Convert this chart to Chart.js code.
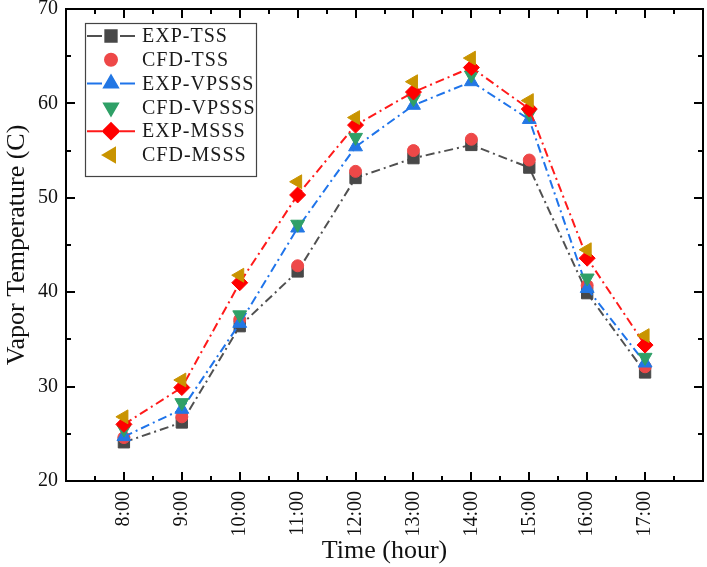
<!DOCTYPE html>
<html lang="en">
<head>
<meta charset="UTF-8">
<title>Vapor Temperature</title>
<script src="https://cdn.jsdelivr.net/npm/chart.js"></script>
<style>
  html, body { margin: 0; padding: 0; background: #fff; }
  #wrap { width: 707px; height: 567px; }
</style>
</head>
<body>
<div id="wrap"><canvas id="myChart"></canvas></div>
<script>
// data
const hours = ['8:00', '9:00', '10:00', '11:00', '12:00', '13:00', '14:00', '15:00', '16:00', '17:00'];
const expTss   = [24.1, 26.2, 36.4, 42.2, 52.1, 54.2, 55.6, 53.2, 39.9, 31.5];
const cfdTss   = [24.6, 26.8, 37.1, 42.8, 52.8, 55.0, 56.2, 54.0, 40.7, 32.1];
const expVpsss = [24.7, 27.6, 36.7, 46.8, 55.4, 59.8, 62.3, 58.3, 40.4, 32.5];
const cfdVpsss = [25.5, 28.3, 37.6, 47.2, 56.4, 60.5, 63.0, 58.9, 41.5, 33.1];
const expMsss  = [26.0, 29.9, 41.0, 50.3, 57.7, 61.2, 63.8, 59.4, 43.6, 34.4];
const cfdMsss  = [26.8, 30.7, 41.8, 51.7, 58.5, 62.3, 64.8, 60.3, 44.5, 35.4];
const yTicks = [20, 30, 40, 50, 60, 70];

const serif = '"Liberation Serif", "Times New Roman", serif';
const dashDot = [9, 4, 2, 4];

function pts(arr) {
  return arr.map((v, i) => ({ x: i, y: v }));
}

function series(label, arr, color, style, rot, lineColor, radius) {
  return {
    label: label,
    data: pts(arr),
    showLine: !!lineColor,
    borderColor: lineColor || color,
    borderWidth: 2,
    borderDash: dashDot,
    backgroundColor: color,
    pointStyle: style,
    rotation: rot,
    pointRadius: radius,
    pointBackgroundColor: color,
    pointBorderColor: color,
    pointBorderWidth: 1,
    tension: 0
  };
}

const datasets = [
  series('EXP-TSS', expTss, '#484848', 'rect', 0, '#505050', 8),
  series('CFD-TSS', cfdTss, '#ee4848', 'circle', 0, null, 6),
  series('EXP-VPSSS', expVpsss, '#2377e4', 'triangle', 0, '#1f74ea', 8),
  series('CFD-VPSSS', cfdVpsss, '#2fa067', 'triangle', 180, null, 8),
  series('EXP-MSSS', expMsss, '#ff0000', 'rectRot', 0, '#ff1a1a', 8),
  series('CFD-MSSS', cfdMsss, '#c99400', 'triangle', 270, null, 8)
];
// later series sit on top
datasets.forEach((d, i) => { d.order = datasets.length - i; });

// frame with inward ticks on all four sides
const framePlugin = {
  id: 'frame',
  afterDatasetsDraw(chart) {
    const ctx = chart.ctx;
    const a = chart.chartArea;
    const xs = chart.scales.x, ys = chart.scales.y;
    ctx.save();
    ctx.strokeStyle = '#000';
    ctx.lineWidth = 2;
    ctx.beginPath();
    for (let v = 25; v < 70; v += 5) {
      const y = Math.round(ys.getPixelForValue(v));
      const len = v % 10 === 0 ? 9 : 5;
      ctx.moveTo(a.left, y); ctx.lineTo(a.left + len, y);
      ctx.moveTo(a.right, y); ctx.lineTo(a.right - len, y);
    }
    for (let v = -0.5; v < 10; v += 0.5) {
      const x = Math.round(xs.getPixelForValue(v));
      const len = Number.isInteger(v) ? 9 : 5;
      ctx.moveTo(x, a.bottom); ctx.lineTo(x, a.bottom - len);
      ctx.moveTo(x, a.top); ctx.lineTo(x, a.top + len);
    }
    ctx.stroke();
    ctx.strokeRect(a.left, a.top, a.right - a.left, a.bottom - a.top);
    ctx.restore();
  }
};

// legend box in the upper left of the plot
const legendPlugin = {
  id: 'boxLegend',
  afterDraw(chart) {
    const ctx = chart.ctx;
    const a = chart.chartArea;
    const bx = a.left + 19, by = a.top + 14;
    ctx.save();
    ctx.fillStyle = '#fff';
    ctx.fillRect(bx, by, 171, 153);
    ctx.strokeStyle = '#444';
    ctx.lineWidth = 1.2;
    ctx.strokeRect(bx + 0.5, by + 0.5, 171, 153);
    chart.data.datasets.forEach((d, i) => {
      const cy = a.top + 27 + i * 23.8;
      const mx = bx + 26;
      if (d.showLine) {
        ctx.strokeStyle = d.borderColor;
        ctx.lineWidth = 2;
        ctx.beginPath();
        ctx.moveTo(bx + 2, cy); ctx.lineTo(mx - 9, cy);
        ctx.moveTo(mx + 9, cy); ctx.lineTo(bx + 50, cy);
        ctx.stroke();
      }
      ctx.fillStyle = d.pointBackgroundColor;
      ctx.strokeStyle = d.pointBorderColor;
      Chart.helpers.drawPoint(ctx, {
        pointStyle: d.pointStyle,
        rotation: d.rotation,
        radius: d.pointRadius,
        borderWidth: 1
      }, mx, cy);
      ctx.fillStyle = '#1a1a1a';
      ctx.font = '20px ' + serif;
      ctx.letterSpacing = '1px';
      ctx.textAlign = 'left';
      ctx.textBaseline = 'middle';
      ctx.fillText(d.label, bx + 57, cy + 1);
    });
    ctx.restore();
  }
};

const ctx = document.getElementById('myChart').getContext('2d');
const myChart = new Chart(ctx, {
  type: 'scatter',
  data: { datasets: datasets },
  options: {
    responsive: true,
    maintainAspectRatio: false,
    devicePixelRatio: 1,
    animation: false,
    layout: { autoPadding: false, padding: { top: 9, right: 4, left: 0, bottom: 0 } },
    plugins: {
      legend: { display: false },
      tooltip: { enabled: false }
    },
    scales: {
      x: {
        type: 'linear',
        min: -1,
        max: 10,
        afterFit(scale) {
          scale.height = 86;
          scale.paddingLeft = 0;
          scale.paddingRight = 0;
        },
        grid: { display: false, drawTicks: false },
        border: { display: false },
        ticks: {
          stepSize: 1,
          autoSkip: false,
          minRotation: 90,
          maxRotation: 90,
          padding: 10,
          color: '#111',
          font: { family: serif, size: 20 },
          callback: v => (Number.isInteger(v) && v >= 0 && v < hours.length) ? hours[v] : ''
        },
        title: {
          display: true,
          text: 'Time (hour)',
          color: '#111',
          font: { family: serif, size: 26 },
          padding: { top: 0, bottom: 0 }
        }
      },
      y: {
        min: 20,
        max: 70,
        afterFit(scale) {
          scale.width = 66;
          scale.paddingTop = 0;
          scale.paddingBottom = 0;
        },
        afterBuildTicks(scale) { scale.ticks = yTicks.map(v => ({ value: v })); },
        grid: { display: false, drawTicks: false },
        border: { display: false },
        ticks: {
          padding: 8,
          color: '#111',
          font: { family: serif, size: 20 }
        },
        title: {
          display: true,
          text: 'Vapor Temperature (C)',
          color: '#111',
          font: { family: serif, size: 26 },
          padding: { top: 2, bottom: 0 }
        }
      }
    }
  },
  plugins: [framePlugin, legendPlugin]
});
</script>
</body>
</html>
